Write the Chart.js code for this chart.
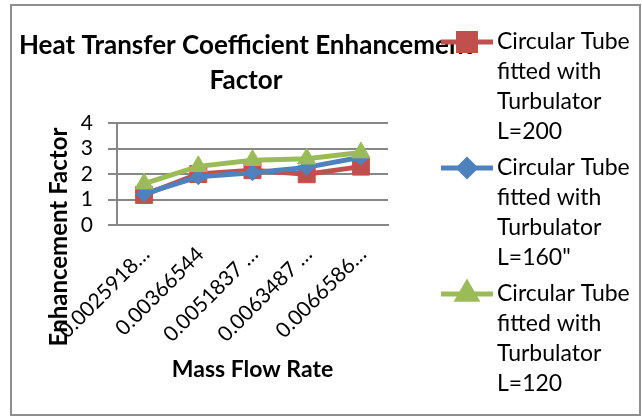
<!DOCTYPE html>
<html lang="en">

<head>
    <meta charset="UTF-8">
    <title>Heat Transfer Coefficient Enhancement Factor</title>
    <style>
        body { margin: 0; background: #fff; }
    </style>
</head>

<body>
    <canvas id="myChart" width="642" height="417"></canvas>

    <script src="https://cdn.jsdelivr.net/npm/chart.js@4.4.2/dist/chart.umd.min.js"></script>

    <script>
        // values
        var massFlowLabels = ['0.0025918\u2026', '0.00366544', '0.0051837 \u2026', '0.0063487 \u2026', '0.0066586\u2026'];
        var yTicks = [0, 1, 2, 3, 4];
        var seriesNames = [
            'Circular Tube\nfitted with\nTurbulator\nL=200',
            'Circular Tube\nfitted with\nTurbulator\nL=160"',
            'Circular Tube\nfitted with\nTurbulator\nL=120',
        ];
        var l200 = [1.18, 2.0, 2.15, 1.99, 2.29];
        var l160 = [1.22, 1.89, 2.05, 2.26, 2.66];
        var l120 = [1.62, 2.3, 2.54, 2.6, 2.84];

        var titleLines = ['Heat Transfer Coefficient Enhancement', 'Factor'];
        var yTitle = 'Enhancement Factor';
        var xTitle = 'Mass Flow Rate';

        var FONT = 'Lato';
        var GRID = '#878787';

        // white page, gray frame, title, y title and legend drawn by hand
        var decor = {
            id: 'decor',
            beforeDraw: function (chart) {
                var c = chart.ctx;
                c.save();
                c.fillStyle = '#fff';
                c.fillRect(0, 0, chart.width, chart.height);
                c.strokeStyle = '#8e8e8e';
                c.lineWidth = 2;
                c.strokeRect(11, 5, 629, 410);
                c.restore();
            },
            afterDraw: function (chart) {
                var c = chart.ctx;
                c.save();
                c.fillStyle = '#000';
                c.textAlign = 'center';
                c.textBaseline = 'middle';
                c.font = 'bold 26px ' + FONT;
                c.fillText(titleLines[0], 246, 46);
                c.fillText(titleLines[1], 246, 81);

                c.save();
                c.translate(59, 237);
                c.rotate(-Math.PI / 2);
                c.font = 'bold 24px ' + FONT;
                c.fillText(yTitle, 0, 0);
                c.restore();

                // legend
                c.textAlign = 'left';
                c.font = '23px ' + FONT;
                chart.data.datasets.forEach(function (ds, i) {
                    var top = 42 + i * 126;
                    c.strokeStyle = ds.borderColor;
                    c.lineWidth = 5;
                    c.beginPath();
                    c.moveTo(441, top);
                    c.lineTo(493, top);
                    c.stroke();
                    c.fillStyle = ds.pointBackgroundColor;
                    c.strokeStyle = ds.pointBorderColor;
                    Chart.helpers.drawPoint(c, {
                        pointStyle: ds.pointStyle,
                        radius: ds.pointRadius,
                        rotation: 0,
                        borderWidth: 1,
                    }, 467, top);
                    c.fillStyle = '#000';
                    ds.label.split('\n').forEach(function (line, k) {
                        c.fillText(line, 497, top + k * 30);
                    });
                });
                c.restore();
            }
        };

        function series(label, data, color, style, radius, order) {
            return {
                label: label,
                data: data,
                borderColor: color,
                backgroundColor: color,
                pointBackgroundColor: color,
                pointBorderColor: color,
                borderWidth: 5,
                pointStyle: style,
                pointRadius: radius,
                pointHoverRadius: radius,
                pointBorderWidth: 1,
                tension: 0,
                order: order,
            };
        }

        new Chart(document.getElementById('myChart'), {
            type: 'line',
            data: {
                labels: massFlowLabels,
                datasets: [
                    series(seriesNames[0], l200, '#C0504D', 'rect', 12, 3),
                    series(seriesNames[1], l160, '#4F81BD', 'rectRot', 8, 2),
                    series(seriesNames[2], l120, '#9BBB59', 'triangle', 10.5, 1),
                ]
            },
            plugins: [decor],
            options: {
                responsive: false,
                animation: false,
                layout: {
                    padding: { top: 123, right: 254, left: 0, bottom: 0 }
                },
                scales: {
                    x: {
                        offset: true,
                        grid: { display: false, drawTicks: false },
                        border: { color: GRID, width: 2 },
                        ticks: {
                            color: '#000',
                            autoSkip: false,
                            maxRotation: 45,
                            minRotation: 45,
                            labelOffset: 2,
                            padding: 17,
                            font: { family: FONT, size: 21 },
                        },
                        title: {
                            display: true,
                            text: xTitle,
                            color: '#000',
                            font: { family: FONT, size: 23, weight: 'bold' },
                            padding: { top: 0, bottom: 34 },
                        },
                        afterFit: function (scale) { scale.height = 192; }
                    },
                    y: {
                        min: yTicks[0],
                        max: yTicks[yTicks.length - 1],
                        grid: { color: GRID, lineWidth: 2, tickLength: 9 },
                        border: { color: GRID, width: 2 },
                        ticks: {
                            stepSize: 1,
                            autoSkip: false,
                            color: '#000',
                            padding: 15,
                            font: { family: FONT, size: 21 },
                        },
                        afterFit: function (scale) { scale.width = 117; }
                    }
                },
                plugins: {
                    legend: { display: false },
                    title: { display: false },
                    tooltip: { enabled: false },
                },
            }
        });
    </script>
</body>

</html>
